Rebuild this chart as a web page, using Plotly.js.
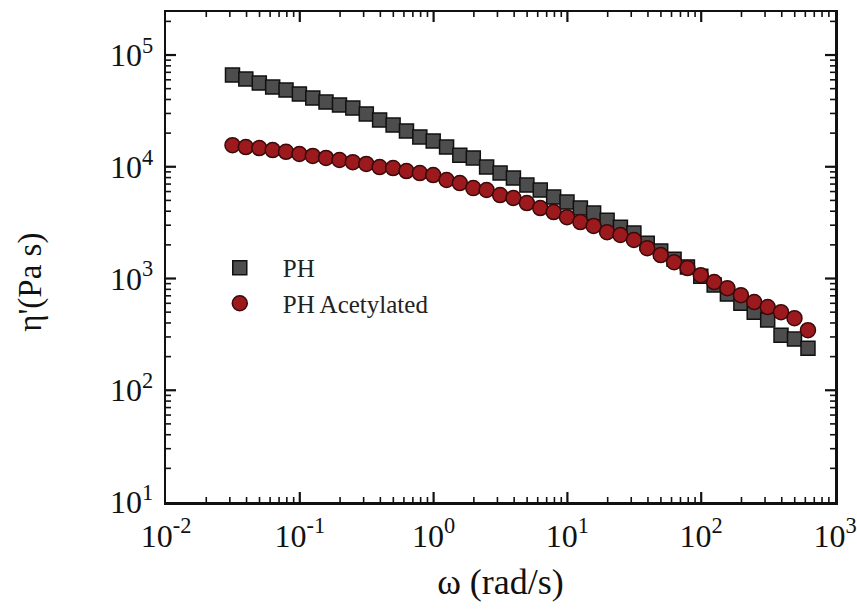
<!DOCTYPE html>
<html>
<head>
<meta charset="utf-8">
<script src="https://cdn.plot.ly/plotly-3.0.1.min.js"></script>
<style>html,body{margin:0;padding:0;background:#fff;}#chart{width:857px;height:611px;}</style>
</head>
<body>
<div id="chart"></div>
<script>
// angular frequency (rad/s)
var omega = [0.0314, 0.0395, 0.0498, 0.0627, 0.0789, 0.0993, 0.125, 0.157, 0.198, 0.249,
             0.314, 0.395, 0.498, 0.627, 0.789, 0.993, 1.25, 1.57, 1.98, 2.49,
             3.14, 3.95, 4.98, 6.27, 7.89, 9.93, 12.5, 15.7, 19.8, 24.9,
             31.4, 39.5, 49.8, 62.7, 78.9, 99.3, 125, 157, 198, 249,
             314, 395, 498, 628];
// eta' (Pa s) - PH
var etaPH = [66200, 61000, 56100, 51700, 48600, 44800, 41200, 37900, 35700, 33500,
             29700, 26200, 23600, 20900, 18500, 17000, 15000, 12700, 12000, 9940,
             8780, 7930, 6860, 6190, 5350, 4830, 4270, 3850, 3330, 2880,
             2550, 2070, 1760, 1490, 1270, 1050, 873, 725, 602, 500,
             425, 311, 287, 238];
// eta' (Pa s) - PH Acetylated
var etaPHA = [15600, 15000, 14700, 14100, 13600, 13000, 12500, 12000, 11500, 11000,
              10600, 9940, 9730, 9150, 8780, 8430, 7610, 7150, 6440, 6190,
              5580, 5250, 4730, 4270, 3930, 3540, 3200, 2950, 2600, 2450,
              2210, 1870, 1620, 1400, 1240, 1070, 929, 820, 710, 615,
              555, 500, 442, 345];
var seriesNames = ['PH', 'PH Acetylated'];
// tick labels
var xTickVals = [0.01, 0.1, 1, 10, 100, 1000];
var xTickText = ['10<sup>-2</sup>', '10<sup>-1</sup>', '10<sup>0</sup>', '10<sup>1</sup>', '10<sup>2</sup>', '10<sup>3</sup>'];
var yTickVals = [10, 100, 1000, 10000, 100000];
var yTickText = ['10<sup>1</sup>', '10<sup>2</sup>', '10<sup>3</sup>', '10<sup>4</sup>', '10<sup>5</sup>'];
var xTitle = 'ω (rad/s)';
var yTitle = "η'(Pa s)";
var xRange = [-2, 3];
var yRange = [1, 5.385];

var W = 857, H = 611, M = {l: 166, r: 22, t: 12, b: 109};
var plotW = W - M.l - M.r, plotH = H - M.t - M.b;

// tick marks (inside, on all four sides) drawn as shapes along the axes
function tickShapes() {
  var s = [];
  function addX(v, len, w) {
    var p = (Math.log10(v) - xRange[0]) / (xRange[1] - xRange[0]);
    if (p <= 0.002 || p >= 0.998) return;
    var d = len / plotH;
    s.push({type: 'line', xref: 'paper', yref: 'paper', x0: p, x1: p, y0: 0, y1: d, line: {color: '#111', width: w}});
    s.push({type: 'line', xref: 'paper', yref: 'paper', x0: p, x1: p, y0: 1, y1: 1 - d, line: {color: '#111', width: w}});
  }
  function addY(v, len, w) {
    var p = (Math.log10(v) - yRange[0]) / (yRange[1] - yRange[0]);
    if (p <= 0.002 || p >= 0.998) return;
    var d = len / plotW;
    s.push({type: 'line', xref: 'paper', yref: 'paper', y0: p, y1: p, x0: 0, x1: d, line: {color: '#111', width: w}});
    s.push({type: 'line', xref: 'paper', yref: 'paper', y0: p, y1: p, x0: 1, x1: 1 - d, line: {color: '#111', width: w}});
  }
  for (var e = -2; e < 3; e++) {
    addX(Math.pow(10, e), 10, 2.2);
    for (var m = 2; m <= 9; m++) addX(m * Math.pow(10, e), 5, 1.6);
  }
  for (var f = 1; f < 6; f++) {
    addY(Math.pow(10, f), 10, 2.2);
    for (var n = 2; n <= 9; n++) addY(n * Math.pow(10, f), 5, 1.6);
  }
  return s;
}

var serif = 'Liberation Serif, Times New Roman, serif';
var traces = [
  {x: omega, y: etaPH, name: seriesNames[0], mode: 'markers', type: 'scatter',
   marker: {symbol: 'square', size: 14, color: '#4d4d4d', line: {color: '#111', width: 1.5}}},
  {x: omega, y: etaPHA, name: seriesNames[1], mode: 'markers', type: 'scatter',
   marker: {symbol: 'circle', size: 15, color: '#9c1a1e', line: {color: '#3a0a0a', width: 1.5}}}
];
function axis(range, tv, tt) {
  return {
    type: 'log', range: range, showgrid: false, zeroline: false,
    showline: true, linecolor: '#111', linewidth: 2.5, mirror: true,
    ticks: '', ticklabelstandoff: 4,
    tickmode: 'array', tickvals: tv, ticktext: tt,
    tickfont: {family: serif, size: 32, color: '#111'}
  };
}
var xa = axis(xRange, xTickVals, xTickText);
xa.title = {text: xTitle, font: {family: serif, size: 36, color: '#111'}, standoff: 16};
var ya = axis(yRange, yTickVals, yTickText);
var layout = {
  width: W, height: H,
  margin: M,
  paper_bgcolor: '#fff', plot_bgcolor: '#fff',
  xaxis: xa,
  yaxis: ya,
  shapes: tickShapes(),
  showlegend: true,
  legend: {x: 0.046, y: 0.5245, xanchor: 'left', yanchor: 'top', bgcolor: 'rgba(0,0,0,0)',
           font: {family: serif, size: 25, color: '#222'}, itemwidth: 76},
  annotations: [{
    text: yTitle, textangle: -90, xref: 'paper', yref: 'paper',
    x: -0.202, y: 0.449, xanchor: 'center', yanchor: 'middle', showarrow: false,
    font: {family: serif, size: 33, color: '#111'}
  }]
};
Plotly.newPlot('chart', traces, layout, {staticPlot: true, displayModeBar: false});
</script>
</body>
</html>
